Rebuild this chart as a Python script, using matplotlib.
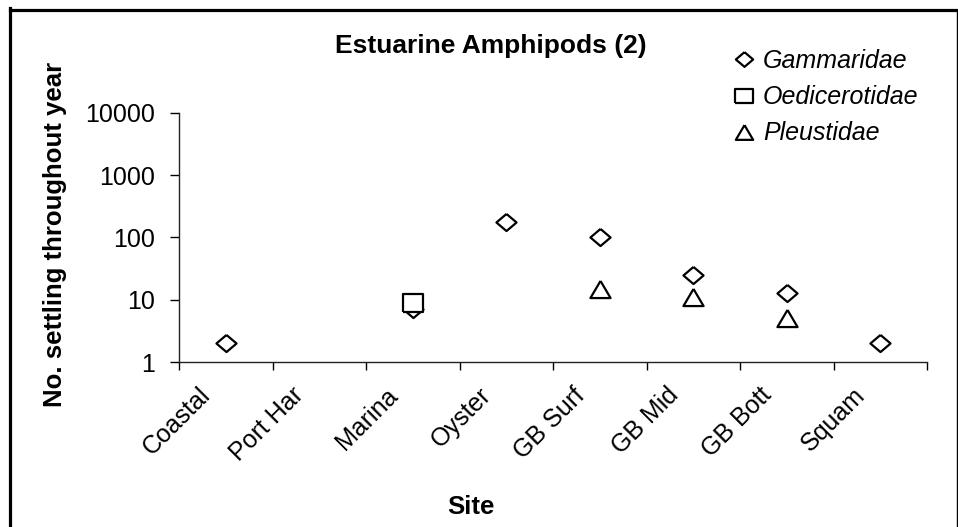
import matplotlib
matplotlib.use("Agg")
import matplotlib.pyplot as plt
import numpy as np
from matplotlib.lines import Line2D
from matplotlib.transforms import ScaledTranslation

plt.rcParams['font.family'] = ['Liberation Sans', 'DejaVu Sans']

sites = ["Coastal", "Port Har", "Marina", "Oyster", "GB Surf", "GB Mid", "GB Bott", "Squam"]
gammaridae = [2, np.nan, 7, 180, 100, 25, 13, 2]
oedicerotidae = [np.nan, np.nan, 9, np.nan, np.nan, np.nan, np.nan, np.nan]
pleustidae = [np.nan, np.nan, np.nan, np.nan, 15, 11, 5, np.nan]
yticks = [1, 10, 100, 1000, 10000]

W, H = 958, 527
fig = plt.figure(figsize=(W / 100, H / 100), dpi=100)
ax = fig.add_axes([179 / W, 1 - 362 / H, (927 - 179) / W, (362 - 113) / H])

k = 0.85
diamond = [(0, k), (1, 0), (0, -k), (-1, 0), (0, k)]
square = [(-1, -k), (1, -k), (1, k), (-1, k), (-1, -k)]
triangle = [(0, k), (1, -k), (-1, -k), (0, k)]

x = np.arange(len(sites))
style = dict(linestyle='none', markersize=14.5, markerfacecolor='white',
             markeredgecolor='black', markeredgewidth=1.6)
ax.plot(x, gammaridae, marker=diamond, label='Gammaridae', **style)
ax.plot(x, oedicerotidae, marker=square, label='Oedicerotidae', **style)
ax.plot(x, pleustidae, marker=triangle, label='Pleustidae', **style)

ax.set_yscale('log')
ax.set_ylim(1, 10000)
ax.set_xlim(-0.5, len(sites) - 0.5)
ax.set_yticks(yticks)
ax.set_yticklabels([str(v) for v in yticks])
ax.yaxis.set_minor_locator(matplotlib.ticker.NullLocator())

ax.set_xticks(np.arange(len(sites) + 1) - 0.5)
ax.set_xticklabels([])
ax.set_xticks(x, minor=True)
ax.set_xticklabels(sites, minor=True, rotation=45, ha='right', va='baseline',
                   rotation_mode='anchor', fontsize=18)
ax.tick_params(axis='x', which='minor', length=0, pad=25)
ax.tick_params(axis='x', which='major', length=6, width=1, direction='out')
ax.tick_params(axis='y', which='major', length=6.5, width=1, direction='out',
               labelsize=18, pad=11)
for lab in ax.get_xticklabels(minor=True):
    lab.set_transform(lab.get_transform() + ScaledTranslation(-14 / 100, 0, fig.dpi_scale_trans))

for s in ['top', 'right']:
    ax.spines[s].set_visible(False)
for s in ['left', 'bottom']:
    ax.spines[s].set_linewidth(1)
    ax.spines[s].set_color('#222222')

ax.set_ylabel('No. settling throughout year', fontsize=18.5, fontweight='bold')
ax.yaxis.set_label_coords((67 - 179) / 748, (362 - 234.5) / 249)
ax.set_xlabel('Site', fontsize=18.5, fontweight='bold')
ax.xaxis.set_label_coords((471 - 179) / 748, (362 - 495) / 249)

fig.text(491 / W, 1 - 53 / H, 'Estuarine Amphipods (2)', ha='center', va='baseline',
         fontsize=19, fontweight='bold')

leg = ax.legend(loc='upper left', bbox_to_anchor=(733 / W, 1 - 49 / H),
                bbox_transform=fig.transFigure, frameon=False,
                prop={'style': 'italic', 'size': 18}, markerscale=0.86,
                handlelength=0.9, handletextpad=0.3, labelspacing=0.49,
                borderpad=0, borderaxespad=0)

# figure frame (left/top thick, right thin)
fig.add_artist(Line2D([9.5 / W, 9.5 / W], [0, 1 - 8 / H], transform=fig.transFigure,
                      color='black', linewidth=2.3, solid_capstyle='projecting'))
fig.add_artist(Line2D([9.5 / W, 1], [1 - 9.5 / H, 1 - 9.5 / H], transform=fig.transFigure,
                      color='black', linewidth=2.3, solid_capstyle='projecting'))
fig.add_artist(Line2D([957.3 / W, 957.3 / W], [0, 1 - 9.5 / H], transform=fig.transFigure,
                      color='black', linewidth=1.0))

fig.savefig('out.png', dpi=100)
